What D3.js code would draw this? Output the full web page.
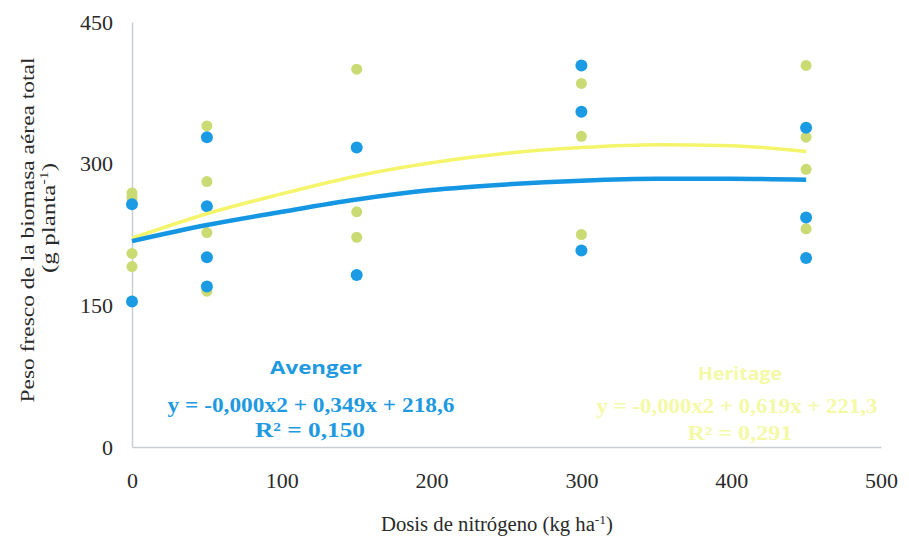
<!DOCTYPE html>
<html>
<head>
<meta charset="utf-8">
<script src="https://cdn.jsdelivr.net/npm/d3@7"></script>
<style>
  body { margin: 0; background: #fff; }
  svg text { font-family: "Liberation Serif", "DejaVu Serif", serif; }
</style>
</head>
<body>
<div id="chartbox"></div>
<script>
// data
var doses = [0, 50, 150, 300, 450];
var avengerPts = [
  [0, 257], [0, 154],
  [50, 328], [50, 255], [50, 201], [50, 170],
  [150, 317], [150, 182],
  [300, 404], [300, 355], [300, 208],
  [450, 338], [450, 243], [450, 200]
];
var heritagePts = [
  [0, 269], [0, 264], [0, 205], [0, 191],
  [50, 340], [50, 281], [50, 227], [50, 165],
  [150, 400], [150, 249], [150, 222],
  [300, 385], [300, 329], [300, 225],
  [450, 404], [450, 328], [450, 294], [450, 231]
];
var trendX = [0, 50, 100, 150, 200, 250, 300, 350, 400, 450];
var avengerTrend = [218, 235, 249, 262, 272, 278, 282, 284, 284, 283];
var heritageTrend = [221, 247, 268, 287, 301, 311, 317, 320, 319, 313];
var xTicks = [0, 100, 200, 300, 400, 500];
var yTicks = [0, 150, 300, 450];

const width = 909, height = 543;
var margin = {top: 22, right: 28, bottom: 95, left: 132};

var svg = d3.select('#chartbox').append('svg')
  .attr('width', width).attr('height', height);

var x = d3.scaleLinear().domain([0, 500]).range([margin.left, width - margin.right]);
var y = d3.scaleLinear().domain([0, 450]).range([height - margin.bottom - 1, margin.top]);

// axes
var xAxis = d3.axisBottom(x).tickValues(xTicks).tickSize(0).tickPadding(25);
var yAxis = d3.axisLeft(y).tickValues(yTicks).tickSize(0).tickPadding(19);

var gx = svg.append('g').attr('transform', 'translate(0,' + y(0) + ')').call(xAxis);
gx.select('.domain').attr('stroke', '#c9ced3').attr('stroke-width', 1.5);
gx.selectAll('text').attr('fill', '#2a2a2a').style('font-size', '22px');

var gy = svg.append('g').attr('transform', 'translate(' + x(0) + ',0)').call(yAxis);
gy.select('.domain').attr('stroke', '#c9ced3').attr('stroke-width', 1.5);
gy.selectAll('text').attr('fill', '#2a2a2a').style('font-size', '22px');

// axis titles
svg.append('text').attr('x', 497).attr('y', 531).attr('text-anchor', 'middle')
  .attr('fill', '#2a2a2a').style('font-size', '20px')
  .attr('textLength', 232).attr('lengthAdjust', 'spacingAndGlyphs')
  .html('Dosis de nitrógeno (kg ha<tspan dy="-7" font-size="13">-1</tspan><tspan dy="7">)</tspan>');

svg.append('text').attr('transform', 'translate(34,230) rotate(-90)')
  .attr('text-anchor', 'middle').attr('fill', '#2a2a2a').style('font-size', '19px')
  .attr('textLength', 345).attr('lengthAdjust', 'spacingAndGlyphs')
  .text('Peso fresco de la biomasa aérea total');
svg.append('text').attr('transform', 'translate(55,218) rotate(-90)')
  .attr('text-anchor', 'middle').attr('fill', '#2a2a2a').style('font-size', '19px')
  .attr('textLength', 110).attr('lengthAdjust', 'spacingAndGlyphs')
  .html('(g planta<tspan dy="-7" font-size="12">-1</tspan><tspan dy="7">)</tspan>');

// points
svg.append('g').selectAll('circle').data(heritagePts).join('circle')
  .attr('cx', d => x(d[0])).attr('cy', d => y(d[1])).attr('r', 5.5)
  .attr('fill', '#c9db72');
svg.append('g').selectAll('circle').data(avengerPts).join('circle')
  .attr('cx', d => x(d[0])).attr('cy', d => y(d[1])).attr('r', 6)
  .attr('fill', '#1a9be3');

// trend lines
var line = d3.line().x(d => x(d[0])).y(d => y(d[1])).curve(d3.curveMonotoneX);
svg.append('path').datum(trendX.map((v, i) => [v, heritageTrend[i]]))
  .attr('d', line).attr('fill', 'none').attr('stroke', '#f4f56a').attr('stroke-width', 3.5);
svg.append('path').datum(trendX.map((v, i) => [v, avengerTrend[i]]))
  .attr('d', line).attr('fill', 'none').attr('stroke', '#1596e3').attr('stroke-width', 4.5);

// equation labels
function label(txt, cx, by, len, size, color, sans) {
  var t = svg.append('text').attr('x', cx).attr('y', by).attr('text-anchor', 'middle')
    .attr('fill', color).style('font-size', size + 'px').style('font-weight', 'bold')
    .attr('textLength', len).attr('lengthAdjust', 'spacingAndGlyphs').text(txt);
  if (sans) t.style('font-family', '"Open Sans", sans-serif');
}
label('Avenger', 316, 374, 92, 18, '#1f9ae0', true);
label('y = -0,000x2 + 0,349x + 218,6', 311, 412, 287, 21, '#1f9ae0');
label('R² = 0,150', 310, 437, 110, 21, '#1f9ae0');

label('Heritage', 740, 380, 84, 17, '#f4f9a6', true);
label('y = -0,000x2 + 0,619x + 221,3', 737, 413, 281, 20, '#f4f9a6');
label('R² = 0,291', 740, 440, 105, 20, '#f4f9a6');
</script>
</body>
</html>
